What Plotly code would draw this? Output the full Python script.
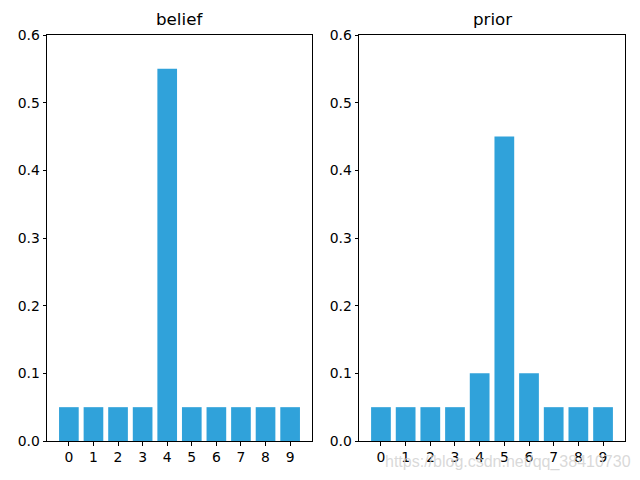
import plotly.graph_objects as go
from plotly.subplots import make_subplots

POSITIONS = [0, 1, 2, 3, 4, 5, 6, 7, 8, 9]
BELIEF = [0.05, 0.05, 0.05, 0.05, 0.55, 0.05, 0.05, 0.05, 0.05, 0.05]
PRIOR = [0.05, 0.05, 0.05, 0.05, 0.10, 0.45, 0.10, 0.05, 0.05, 0.05]
TITLES = ["belief", "prior"]
Y_TICKS = [0.0, 0.1, 0.2, 0.3, 0.4, 0.5, 0.6]

BLUE = "#30a2da"
FONT = "DejaVu Sans, sans-serif"

# the page body adds an 8px margin, so the figure is 8px smaller each way
OFF = 8
W, H = 640 - OFF, 480 - OFF


def px_x(x):
    return (x - OFF) / W


def px_y(y):
    return 1 - (y - OFF) / H


fig = make_subplots(rows=1, cols=2)
for col, vals in ((1, BELIEF), (2, PRIOR)):
    fig.add_trace(
        go.Bar(x=POSITIONS, y=vals, width=0.8, marker=dict(color=BLUE, line=dict(width=0))),
        row=1, col=col,
    )

fig.update_layout(
    width=W, height=H,
    margin=dict(l=0, r=0, t=0, b=0),
    paper_bgcolor="white", plot_bgcolor="white",
    font=dict(family=FONT, size=13.9, color="black"),
    showlegend=False,
    xaxis=dict(domain=[px_x(47), px_x(312)]),
    xaxis2=dict(domain=[px_x(359), px_x(625)]),
    yaxis=dict(domain=[px_y(441), px_y(35)]),
    yaxis2=dict(domain=[px_y(441), px_y(35)]),
)
fig.update_xaxes(
    range=[-0.89, 9.89], tickmode="array", tickvals=POSITIONS,
    ticks="outside", ticklen=3.5, tickwidth=0.8, tickcolor="black",
    showline=True, linecolor="black", linewidth=1, mirror=True,
    showgrid=False, zeroline=False, automargin=False,
)
fig.update_yaxes(
    range=[0, 0.6], tickmode="array", tickvals=Y_TICKS,
    ticktext=[f"{v:.1f}" for v in Y_TICKS],
    ticks="outside", ticklen=3.5, tickwidth=0.8, tickcolor="black",
    showline=True, linecolor="black", linewidth=1, mirror=True,
    showgrid=False, zeroline=False, automargin=False,
)

for i, t in enumerate(TITLES):
    xref = "x domain" if i == 0 else "x2 domain"
    yref = "y domain" if i == 0 else "y2 domain"
    fig.add_annotation(
        text=t, xref=xref, yref=yref, x=0.5, y=1, yanchor="bottom", yshift=4,
        showarrow=False, font=dict(family=FONT, size=16.7, color="black"),
    )

fig.add_annotation(
    text="https://blog.csdn.net/qq_38410730", xref="paper", yref="paper",
    x=px_x(633), y=px_y(462), xanchor="right", yanchor="middle",
    showarrow=False, font=dict(family="Liberation Sans, Arial, sans-serif", size=16, color="rgba(210,210,210,0.85)"),
)

fig.write_html("out.html")
